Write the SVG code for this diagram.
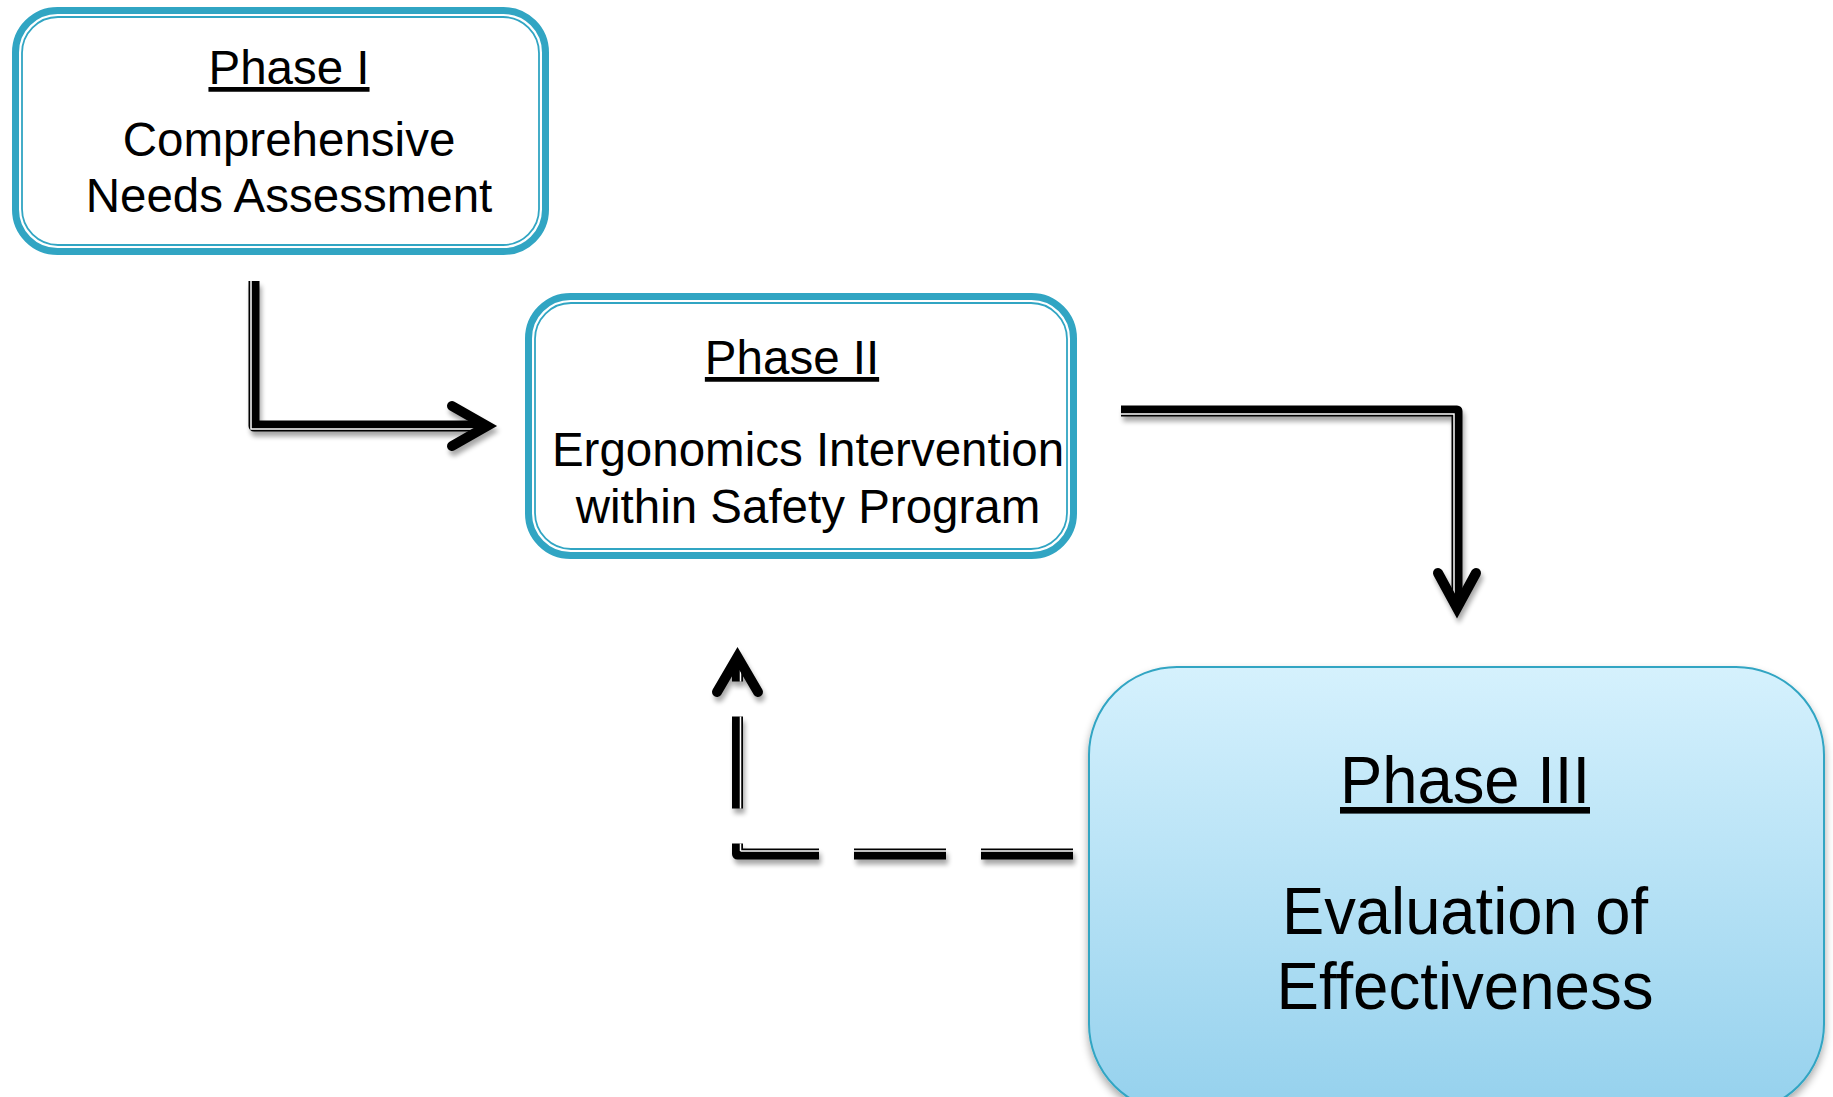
<svg xmlns="http://www.w3.org/2000/svg" width="1833" height="1097" viewBox="0 0 1833 1097">
<defs>
<linearGradient id="g3" x1="0" y1="0" x2="0" y2="1">
<stop offset="0" stop-color="#d5f1fd"/>
<stop offset="1" stop-color="#95d1ed"/>
</linearGradient>
<filter id="sh" x="-20%" y="-20%" width="140%" height="140%">
<feGaussianBlur in="SourceAlpha" stdDeviation="2.5"/>
<feOffset dx="2" dy="5" result="b"/>
<feComponentTransfer><feFuncA type="linear" slope="0.35"/></feComponentTransfer>
<feMerge><feMergeNode/><feMergeNode in="SourceGraphic"/></feMerge>
</filter>
<filter id="shb" x="-10%" y="-10%" width="120%" height="130%">
<feGaussianBlur in="SourceAlpha" stdDeviation="4"/>
<feOffset dx="0" dy="5" result="b"/>
<feComponentTransfer><feFuncA type="linear" slope="0.35"/></feComponentTransfer>
<feMerge><feMergeNode/><feMergeNode in="SourceGraphic"/></feMerge>
</filter>
</defs>
<style>
.outer{fill:#ffffff;stroke:#31a5c3;stroke-width:7}
.inner{fill:none;stroke:#31a5c3;stroke-width:1.8}
.t{font-family:"Liberation Sans",Arial,sans-serif;fill:#000;text-anchor:middle}
.u{text-decoration:underline}
.ln{fill:none;stroke:#000;stroke-width:11;stroke-linejoin:round}
.wl{fill:none;stroke:#fff;stroke-width:1.5}
.head{fill:none;stroke:#000;stroke-width:10;stroke-linecap:round;stroke-linejoin:miter}
.dash{stroke-dasharray:92 35}
</style>
<g id="connectors">
<g id="c1" filter="url(#sh)">
<path class="ln" d="M254 281 V426 H486"/>
<path class="wl" d="M251 281 V429 H486"/>
<polyline class="head" points="452,406 487,426 452,446"/>
</g>
<g id="c2" filter="url(#sh)">
<path class="ln" d="M1121 411 H1457 V606"/>
<path class="wl" d="M1121 414 H1454 V606"/>
<polyline class="head" points="1438,573 1457,608 1476,573"/>
</g>
<g id="c3" filter="url(#sh)">
<path class="ln dash" style="stroke-linejoin:round" d="M1073 854 H737.5 V664"/>
<path class="wl dash" d="M1073 851 H740.5"/>
<path class="wl dash" style="stroke-dashoffset:338.5" d="M740.5 851 V664"/>
<polyline class="head" points="717,692 737.5,657 758,692"/>
</g>
</g>
<g id="phase1">
<rect class="outer" x="15.5" y="10.5" width="530" height="241" rx="42"/>
<rect class="inner" x="22" y="17" width="517" height="228" rx="36"/>
<text class="t u" x="289" y="84" font-size="47.5">Phase I</text>
<text class="t" x="289" y="156" font-size="47.5">Comprehensive</text>
<text class="t" x="289" y="212" font-size="47.5">Needs Assessment</text>
</g>
<g id="phase2">
<rect class="outer" x="528.5" y="296.5" width="545" height="259" rx="42"/>
<rect class="inner" x="535" y="303" width="532" height="246" rx="36"/>
<text class="t u" x="792" y="374" font-size="47.5">Phase II</text>
<text class="t" x="808" y="466" font-size="47.5">Ergonomics Intervention</text>
<text class="t" x="808" y="523" font-size="47.5">within Safety Program</text>
</g>
<g id="phase3">
<rect x="1089" y="667" width="735" height="445" rx="88" fill="url(#g3)" stroke="#31a5c3" stroke-width="2" filter="url(#shb)"/>
<text class="t u" x="1465" y="803" font-size="66" textLength="250" lengthAdjust="spacingAndGlyphs">Phase III</text>
<text class="t" x="1465" y="934" font-size="66" textLength="366" lengthAdjust="spacingAndGlyphs">Evaluation of</text>
<text class="t" x="1465" y="1009" font-size="66" textLength="377" lengthAdjust="spacingAndGlyphs">Effectiveness</text>
</g>
</svg>
